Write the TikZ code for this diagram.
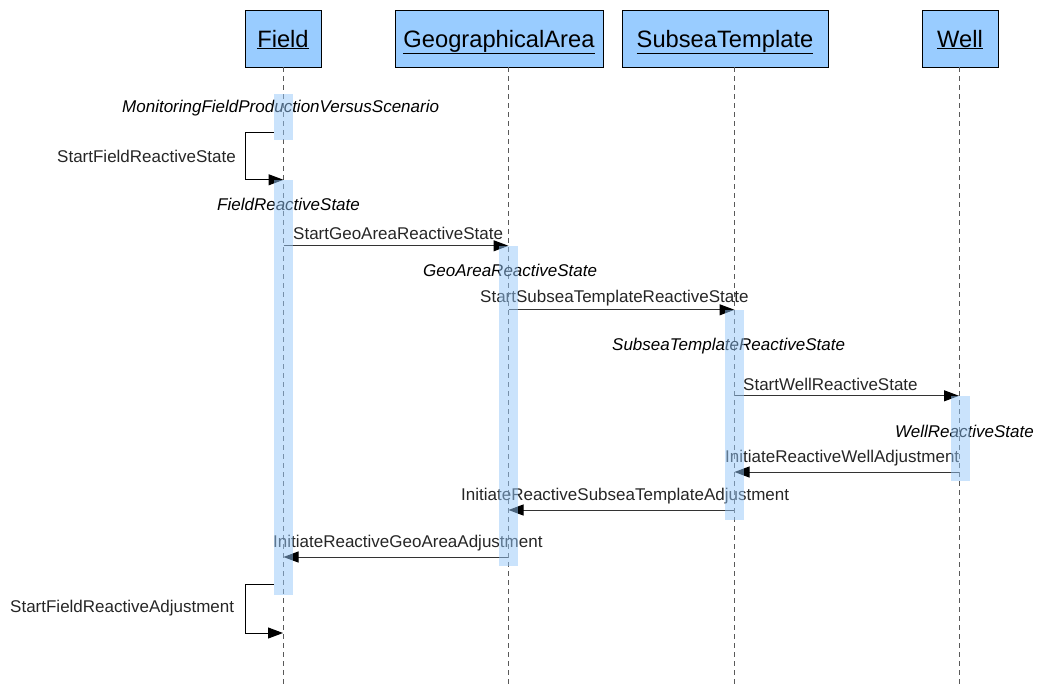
\documentclass[tikz,border=0pt]{standalone}
\usepackage{fontspec}
\setmainfont{Liberation Sans}
\usetikzlibrary{arrows.meta, positioning}
\pgfdeclarelayer{fg}
\pgfsetlayers{main,fg}
\definecolor{headblue}{RGB}{153,204,255}
\definecolor{barblue}{RGB}{150,200,250}

\begin{document}
\begin{tikzpicture}[x=1pt, y=-1pt,
    every node/.style={font=\fontsize{17}{20}\selectfont, inner sep=0pt},
    head/.style={draw=black, fill=headblue, minimum height=57pt, text height=20pt, text depth=3pt,
        font=\fontsize{23.7}{27}\selectfont},
    life/.style={draw=black!65, line width=0.9pt, dash pattern=on 5pt off 4pt},
    bar/.style={fill=barblue, fill opacity=0.5, minimum width=19pt},
    msg/.style={-{Triangle[length=15pt, width=11pt, color=black]}, draw=black!80, line width=1pt},
    state/.style={font=\itshape\fontsize{17}{20}\selectfont, anchor=west},
    lbl/.style={anchor=west, text=black!85}
]
\useasboundingbox (0,0) rectangle (1037,686);

% objects
\node[head, minimum width=76pt] (field) at (283,38.5) {\underline{Field}};
\node[head, minimum width=208pt] (geo) at (499,38.5) {\underline{GeographicalArea}};
\node[head, minimum width=206pt] (subsea) at (725,38.5) {\underline{SubseaTemplate}};
\node[head, minimum width=76pt] (well) at (960,38.5) {\underline{Well}};

% lifelines
\coordinate (fieldend) at (283,686);
\coordinate (geoend) at (508,686);
\coordinate (subseaend) at (734,686);
\coordinate (wellend) at (959,686);
\draw[life] (field.south -| fieldend) -- (fieldend);
\draw[life] (geo.south -| geoend) -- (geoend);
\draw[life] (subsea.south -| subseaend) -- (subseaend);
\draw[life] (well.south -| wellend) -- (wellend);

% activations
\begin{pgfonlayer}{fg}
\node[bar, minimum height=46pt] (b1) at (283.5,117) {};
\node[bar, minimum height=415pt] (b2) at (283.5,387.5) {};
\node[bar, minimum height=320pt] (b3) at (508.5,406) {};
\node[bar, minimum height=210pt] (b4) at (734.5,415) {};
\node[bar, minimum height=85pt] (b5) at (960,438.5) {};
\end{pgfonlayer}

% states
\node[state] (st0) at (122,108) {MonitoringFieldProductionVersusScenario};
\node[state] (st1) at (217,204) {FieldReactiveState};
\node[state] (st2) at (423,270) {GeoAreaReactiveState};
\node[state] (st3) at (612,346) {SubseaTemplateReactiveState};
\node[state] (st4) at (895,431) {WellReactiveState};

% self messages
\coordinate (s1) at (274,132);
\coordinate (s2) at (274,584);
\coordinate (s2end) at (283,633);
\draw[msg, draw=black] (s1) -- ++(-29,0) |- (b2.north);
\node[lbl] (l1) at (57,156) {StartFieldReactiveState};
\draw[msg, draw=black] (s2) -- ++(-29,0) |- (s2end);
\node[lbl] (l8) at (10,608) {StartFieldReactiveAdjustment};

% messages
\coordinate (r1) at (959,472);
\coordinate (r2) at (734,510);
\coordinate (r3) at (508,557);
\draw[msg] (b2 |- b3.north) -- (b3.north);
\node[lbl] (l2) at (293,233) {StartGeoAreaReactiveState};
\draw[msg] (b3 |- b4.north) -- (b4.north);
\node[lbl] (l3) at (480,298) {StartSubseaTemplateReactiveState};
\draw[msg] (b4 |- b5.north) -- (b5.north -| wellend);
\node[lbl] (l4) at (743,384) {StartWellReactiveState};
\draw[msg] (r1) -- (b4 |- r1);
\node[lbl] (l5) at (725,458) {InitiateReactiveWellAdjustment};
\draw[msg] (r2) -- (b3 |- r2);
\node[lbl] (l6) at (461,496) {InitiateReactiveSubseaTemplateAdjustment};
\draw[msg] (r3) -- (b2 |- r3);
\node[lbl] (l7) at (273,543) {InitiateReactiveGeoAreaAdjustment};
\end{tikzpicture}
\end{document}
